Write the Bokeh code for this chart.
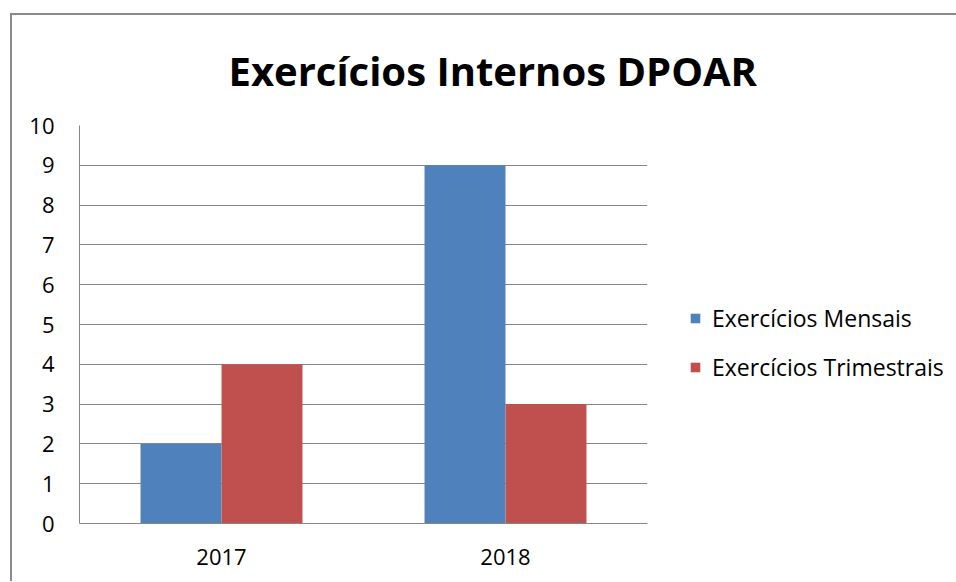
from bokeh.plotting import figure
from bokeh.models import FactorRange, Range1d, FixedTicker, Legend, LegendItem, ColumnDataSource
from bokeh.transform import dodge
from bokeh.embed import file_html
from bokeh.resources import INLINE

years = ["2017", "2018"]
mensais = [2, 9]
trimestrais = [4, 3]
y_ticks = list(range(0, 11))
title_text = "Exercícios Internos DPOAR"
series_names = ["Exercícios Mensais", "Exercícios Trimestrais"]
colors = ["#4F81BD", "#C0504D"]

src = ColumnDataSource(dict(year=years, m=mensais, t=trimestrais))

FONT = "Open Sans"
GRID = "#868686"

p = figure(x_range=FactorRange(*years, range_padding=0), y_range=Range1d(0, 10),
           width=940, height=566, output_backend="svg", toolbar_location=None,
           min_border_left=67, min_border_right=305, min_border_top=110, min_border_bottom=58)
p.frame_width = 568
p.frame_height = 398
p.styles = {"margin-left": "10px", "margin-top": "13px",
            "border-left": "2px solid #8a8a8a", "border-top": "2px solid #8a8a8a"}

p.title.text = title_text
p.title.text_font = FONT
p.title.text_font_style = "bold"
p.title.text_font_size = "40px"
p.title.text_color = "#000000"
p.title.align = "left"
p.title.vertical_align = "top"
p.title.offset = 149
p.title.standoff = 52

r1 = p.vbar(x=dodge("year", -0.1426, range=p.x_range), top="m", width=0.285, source=src,
            fill_color=colors[0], line_color=None)
r2 = p.vbar(x=dodge("year", 0.1426, range=p.x_range), top="t", width=0.285, source=src,
            fill_color=colors[1], line_color=None)

p.outline_line_color = None
p.background_fill_color = "white"

p.yaxis.ticker = FixedTicker(ticks=y_ticks)
p.yaxis.major_tick_line_color = None
p.yaxis.minor_tick_line_color = None
p.yaxis.axis_line_color = GRID
p.yaxis.major_label_text_font = FONT
p.yaxis.major_label_text_font_size = "22px"
p.yaxis.major_label_text_color = "#000000"
p.yaxis.major_label_standoff = 19

p.xaxis.major_tick_line_color = None
p.xaxis.minor_tick_line_color = None
p.xaxis.axis_line_color = GRID
p.xaxis.major_label_text_font = FONT
p.xaxis.major_label_text_font_size = "22px"
p.xaxis.major_label_text_color = "#000000"
p.xaxis.major_label_standoff = 19

p.xgrid.grid_line_color = None
p.ygrid.grid_line_color = GRID
p.ygrid.ticker = FixedTicker(ticks=y_ticks)

legend = Legend(items=[LegendItem(label=series_names[0], renderers=[r1]),
                       LegendItem(label=series_names[1], renderers=[r2])],
                location=(42, 140), orientation="vertical",
                label_text_font=FONT, label_text_font_size="23px", label_text_color="#000000",
                glyph_width=12, glyph_height=12, label_standoff=11, spacing=17,
                border_line_color=None, background_fill_alpha=0, padding=0, margin=0)
p.add_layout(legend, "right")

open("out.html", "w").write(file_html(p, INLINE))
